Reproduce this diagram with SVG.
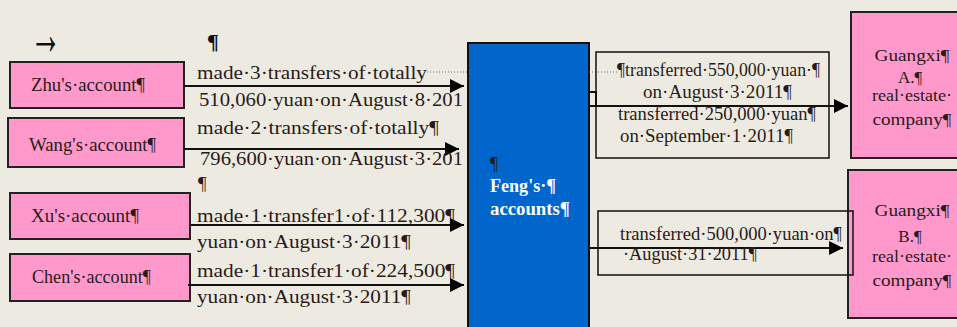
<svg xmlns="http://www.w3.org/2000/svg" width="957" height="327" viewBox="0 0 957 327">
<defs>
<marker id="ah" viewBox="0 0 10 10" refX="10" refY="5" markerWidth="7" markerHeight="7" markerUnits="strokeWidth" orient="auto">
<path d="M0,0 L10,5 L0,10 z" fill="#000"/>
</marker>
<style>
text{font-family:'Liberation Serif','DejaVu Serif',serif}
.pink{fill:#FF99CC;stroke:#222;stroke-width:2}
.t{font-size:19px;fill:#2a1a1a}
.s{font-size:18px;fill:#2a1a1a}
.g{font-size:17px;fill:#2a1a1a}
.w{font-size:18px;fill:#fff;font-weight:bold}
.c{text-anchor:middle}
.big{font-size:22px;fill:#111;font-weight:bold}
.arr{font-size:30px;fill:#111;font-weight:bold}
.conn{stroke:#111;stroke-width:2;fill:none}
.dot{stroke:#777;stroke-width:1;stroke-dasharray:1 2;fill:none}
.lbl{fill:none;stroke:#111;stroke-width:1.5}
</style>
</defs>
<rect width="957" height="327" fill="#EDEBE1"/>
<text class="arr" transform="translate(30,54) scale(1.05,2)" x="0" y="0">→</text>
<text class="big" x="207" y="49">¶</text>

<g id="zhu"><rect class="pink" x="10" y="62" width="174" height="46"/><text class="s" x="31" y="91" textLength="114" lengthAdjust="spacingAndGlyphs">Zhu's·account¶</text></g>
<g id="wang"><rect class="pink" x="8" y="118" width="176" height="49"/><text class="s" x="29" y="151" textLength="127" lengthAdjust="spacingAndGlyphs">Wang's·account¶</text></g>
<g id="xu"><rect class="pink" x="10" y="193" width="180" height="46"/><text class="s" x="31" y="222" textLength="108" lengthAdjust="spacingAndGlyphs">Xu's·account¶</text></g>
<g id="chen"><rect class="pink" x="10" y="254" width="180" height="47"/><text class="s" x="32" y="283" textLength="119" lengthAdjust="spacingAndGlyphs">Chen's·account¶</text></g>

<g id="feng"><rect x="468" y="43" width="121" height="290" fill="#0066CC" stroke="#111" stroke-width="2"/>
<text class="s" x="490" y="170">¶</text>
<text class="w" x="490" y="192" textLength="66" lengthAdjust="spacingAndGlyphs">Feng's·¶</text>
<text class="w" x="490" y="215" textLength="80" lengthAdjust="spacingAndGlyphs">accounts¶</text></g>

<g id="guangxiA"><rect class="pink" x="851" y="12" width="112" height="146"/>
<text class="g c" x="912" y="61" textLength="75" lengthAdjust="spacingAndGlyphs">Guangxi¶</text><text class="g c" x="910" y="83">A.¶</text><text class="g c" x="912" y="101" textLength="80" lengthAdjust="spacingAndGlyphs">real·estate·</text><text class="g c" x="912" y="125" textLength="79" lengthAdjust="spacingAndGlyphs">company¶</text></g>
<g id="guangxiB"><rect class="pink" x="848" y="170" width="115" height="148"/>
<text class="g c" x="912" y="216" textLength="75" lengthAdjust="spacingAndGlyphs">Guangxi¶</text><text class="g c" x="910" y="242">B.¶</text><text class="g c" x="912" y="262" textLength="80" lengthAdjust="spacingAndGlyphs">real·estate·</text><text class="g c" x="912" y="286" textLength="79" lengthAdjust="spacingAndGlyphs">company¶</text></g>

<g id="connectors">
<line class="dot" x1="427" y1="72" x2="468" y2="72"/>
<line class="dot" x1="589" y1="72" x2="618" y2="72"/>
<line class="conn" x1="184" y1="86" x2="464" y2="86" marker-end="url(#ah)"/>
<line class="conn" x1="184" y1="149" x2="459" y2="149" marker-end="url(#ah)"/>
<line class="conn" x1="190" y1="225" x2="464" y2="225" marker-end="url(#ah)"/>
<line class="conn" x1="188" y1="285" x2="464" y2="285" marker-end="url(#ah)"/>
<rect class="lbl" x="596" y="52" width="233" height="106"/>
<polyline class="conn" points="589,92 596,92 596,106"/>
<line class="conn" x1="590" y1="106" x2="848" y2="106" marker-end="url(#ah)"/>
<rect class="lbl" x="598" y="211" width="255" height="64"/>
<line class="conn" x1="589" y1="248" x2="843" y2="248" marker-end="url(#ah)"/>
</g>

<g id="labels">
<text class="t" x="197" y="79" textLength="230" lengthAdjust="spacingAndGlyphs">made·3·transfers·of·totally</text>
<text class="t" x="199" y="106" textLength="264" lengthAdjust="spacingAndGlyphs">510,060·yuan·on·August·8·201</text>
<text class="t" x="197" y="134" textLength="242" lengthAdjust="spacingAndGlyphs">made·2·transfers·of·totally¶</text>
<text class="t" x="200" y="165" textLength="263" lengthAdjust="spacingAndGlyphs">796,600·yuan·on·August·3·201</text>
<text class="t" x="198" y="190">¶</text>
<text class="t" x="197" y="222" textLength="258" lengthAdjust="spacingAndGlyphs">made·1·transfer1·of·112,300¶</text>
<text class="t" x="197" y="248" textLength="214" lengthAdjust="spacingAndGlyphs">yuan·on·August·3·2011¶</text>
<text class="t" x="197" y="277" textLength="258" lengthAdjust="spacingAndGlyphs">made·1·transfer1·of·224,500¶</text>
<text class="t" x="197" y="303" textLength="214" lengthAdjust="spacingAndGlyphs">yuan·on·August·3·2011¶</text>
<text class="s" x="617" y="76" textLength="203" lengthAdjust="spacingAndGlyphs">¶transferred·550,000·yuan·¶</text>
<text class="s" x="643" y="98" textLength="149" lengthAdjust="spacingAndGlyphs">on·August·3·2011¶</text>
<text class="s" x="618" y="120" textLength="198" lengthAdjust="spacingAndGlyphs">transferred·250,000·yuan¶</text>
<text class="s" x="620" y="142" textLength="173" lengthAdjust="spacingAndGlyphs">on·September·1·2011¶</text>
<text class="s" x="620" y="240" textLength="222" lengthAdjust="spacingAndGlyphs">transferred·500,000·yuan·on¶</text>
<text class="s" x="623" y="260" textLength="134" lengthAdjust="spacingAndGlyphs">·August·31·2011¶</text>
</g>
</svg>
